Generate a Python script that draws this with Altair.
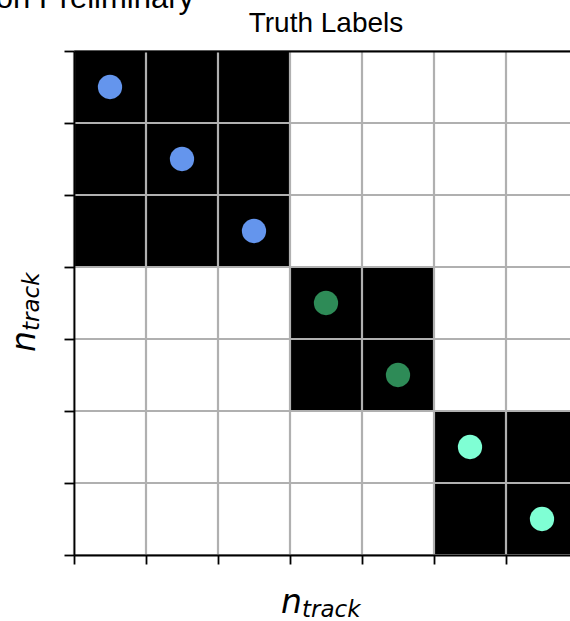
import altair as alt
import pandas as pd

# Seven tracks and the truth cluster each one belongs to
tracks = [0, 1, 2, 3, 4, 5, 6]
truth_labels = [0, 0, 0, 1, 1, 2, 2]
label_colors = ["#6495ED", "#2E8B57", "#7FFFD4"]
cell_edges = [0, 1, 2, 3, 4, 5, 6, 7]

title_text = ["Truth Labels"]
banner_text = ["Simulation Preliminary"]
axis_symbol = ["n"]
axis_subscript = ["track"]

# Adjacency matrix: a cell is filled when both tracks share a truth label
cells = pd.DataFrame(
    [
        {"row": i, "col": j, "link": int(truth_labels[i] == truth_labels[j])}
        for i in tracks
        for j in tracks
    ]
)
nodes = pd.DataFrame({"track": tracks, "label": truth_labels})
edges = pd.DataFrame({"edge": cell_edges})

x_scale = alt.Scale(domain=[0, 7], range=[0, 504], nice=False, zero=False)
y_scale = alt.Scale(domain=[0, 7], reverse=True, nice=False, zero=False)

spine = dict(
    domainColor="black",
    domainWidth=1.8,
    tickColor="black",
    tickWidth=1.8,
    labels=False,
    title=None,
    grid=False,
    zindex=1,
)

x_bottom = alt.Axis(orient="bottom", values=cell_edges, tickSize=9, **spine)
x_top = alt.Axis(orient="top", ticks=False, **spine)
y_left = alt.Axis(orient="left", values=cell_edges, tickSize=10, **spine)

matrix = (
    alt.Chart(cells)
    .transform_calculate(col_end="datum.col + 1", row_end="datum.row + 1")
    .mark_rect()
    .encode(
        x=alt.X("col:Q", scale=x_scale, axis=x_bottom),
        x2="col_end:Q",
        y=alt.Y("row:Q", scale=y_scale, axis=y_left),
        y2="row_end:Q",
        fill=alt.Fill(
            "link:N",
            scale=alt.Scale(domain=[1, 0], range=["black", "white"]),
            legend=None,
        ),
    )
)

# Light grid drawn over the cells along every cell boundary
grid_v = (
    alt.Chart(edges)
    .mark_rule(color="#b0b0b0", strokeWidth=2.2)
    .encode(x=alt.X("edge:Q", scale=x_scale, axis=None))
)
grid_h = (
    alt.Chart(edges)
    .mark_rule(color="#b0b0b0", strokeWidth=2.2)
    .encode(y=alt.Y("edge:Q", scale=y_scale, axis=None))
)

diagonal = (
    alt.Chart(nodes)
    .transform_calculate(center="datum.track + 0.5")
    .mark_circle(size=590, opacity=1)
    .encode(
        x=alt.X("center:Q", scale=x_scale, axis=x_top),
        y=alt.Y("center:Q", scale=y_scale, axis=None),
        color=alt.Color(
            "label:N",
            scale=alt.Scale(domain=[0, 1, 2], range=label_colors),
            legend=None,
        ),
    )
)


def label(values, **mark):
    return (
        alt.Chart(pd.DataFrame({"text": values}))
        .mark_text(baseline="alphabetic", color="black", **mark)
        .encode(text="text:N")
    )


title = label(title_text, x=252, y=-19, align="center", font="Liberation Sans", fontSize=28)
banner = label(banner_text, x=120, y=-43, align="right", font="Liberation Sans", fontSize=31)

x_n = label(axis_symbol, x=207, y=562, align="left", font="DejaVu Sans",
            fontStyle="italic", fontSize=33)
x_sub = label(axis_subscript, x=228, y=566, align="left", font="DejaVu Sans",
              fontStyle="italic", fontSize=23)
y_n = label(axis_symbol, x=-39, y=301, angle=270, align="left", font="DejaVu Sans",
            fontStyle="italic", fontSize=33)
y_sub = label(axis_subscript, x=-35, y=280, angle=270, align="left", font="DejaVu Sans",
              fontStyle="italic", fontSize=23)

chart = (
    alt.layer(matrix, grid_v, grid_h, diagonal, title, banner, x_n, x_sub, y_n, y_sub)
    .resolve_scale(color="independent")
    .resolve_axis(x="independent", y="independent")
    .properties(
        width=496,
        height=504,
        padding={"left": 74, "top": 51, "right": 0, "bottom": 66},
        autosize=alt.AutoSizeParams(type="none"),
        background="white",
    )
    .configure_view(stroke="transparent")
)

chart.save("out.html", embed_options={"renderer": "svg", "actions": False})
